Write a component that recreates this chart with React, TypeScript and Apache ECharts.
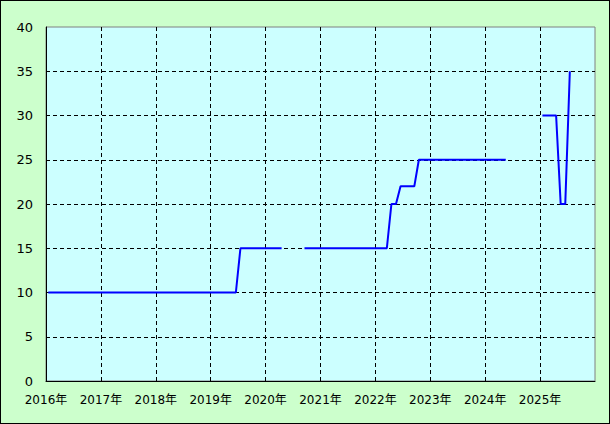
import React, { useEffect, useRef } from "react";
import * as echarts from "echarts";

// Change points of the monthly series (null = gap in the data)
const months: string[] = [
  "2016-01", "2019-06", "2019-07", "2020-04", "2020-06", "2020-09",
  "2022-03", "2022-04", "2022-05", "2022-06", "2022-09", "2022-10",
  "2024-05", "2024-09", "2025-01", "2025-04", "2025-05", "2025-06", "2025-07",
];
const values: (number | null)[] = [
  10, 10, 15, 15, null, 15,
  15, 20, 20, 22, 22, 25,
  25, null, 30, 30, 20, 20, 35,
];
const yearLabelSuffix = "年";

const toYearValue = (m: string) => {
  const [y, mo] = m.split("-").map(Number);
  return y + (mo - 0.5) / 12;
};

export default function App() {
  const ref = useRef<HTMLDivElement>(null);
  useEffect(() => {
    if (!ref.current) return;
    const chart = echarts.init(ref.current, undefined, { renderer: "svg" });
    const data = months.map((m, i) => [toYearValue(m), values[i]]);
    const font = '"DejaVu Sans", "Noto Sans CJK JP", sans-serif';
    chart.setOption({
      animation: false,
      backgroundColor: "#ccffcc",
      grid: {
        left: 45,
        top: 26,
        width: 549,
        height: 354,
        show: true,
        backgroundColor: "#ccffff",
        borderColor: "#808080",
        borderWidth: 1,
      },
      xAxis: {
        type: "value",
        min: 2016,
        max: 2026,
        interval: 1,
        axisLine: { show: true, lineStyle: { color: "#000", width: 1 } },
        axisTick: { show: false },
        axisLabel: {
          color: "#000",
          fontSize: 12,
          fontFamily: font,
          margin: 13,
          showMaxLabel: false,
          formatter: (v: number) => (v >= 2026 ? "" : `${v}${yearLabelSuffix}`),
        },
        splitLine: {
          show: true,
          showMinLine: false,
          showMaxLine: false,
          lineStyle: { color: "#000", type: [4, 3], width: 1 },
        },
      },
      yAxis: {
        type: "value",
        min: 0,
        max: 40,
        interval: 5,
        axisLine: { show: true, lineStyle: { color: "#000", width: 1 } },
        axisTick: { show: false },
        axisLabel: { color: "#000", fontSize: 13, fontFamily: font, margin: 13 },
        splitLine: {
          show: true,
          showMinLine: false,
          showMaxLine: false,
          lineStyle: { color: "#000", type: [4, 3], width: 1 },
        },
      },
      series: [
        {
          type: "line",
          data,
          symbol: "none",
          connectNulls: false,
          lineStyle: { color: "#0000ff", width: 2 },
        },
      ],
    });
    return () => chart.dispose();
  }, []);
  return (
    <div
      style={{
        position: "absolute",
        left: 0,
        top: 0,
        width: 610,
        height: 424,
        boxSizing: "border-box",
        border: "1px solid #000",
        background: "#ccffcc",
      }}
    >
      <div ref={ref} style={{ width: 608, height: 422 }} />
    </div>
  );
}
